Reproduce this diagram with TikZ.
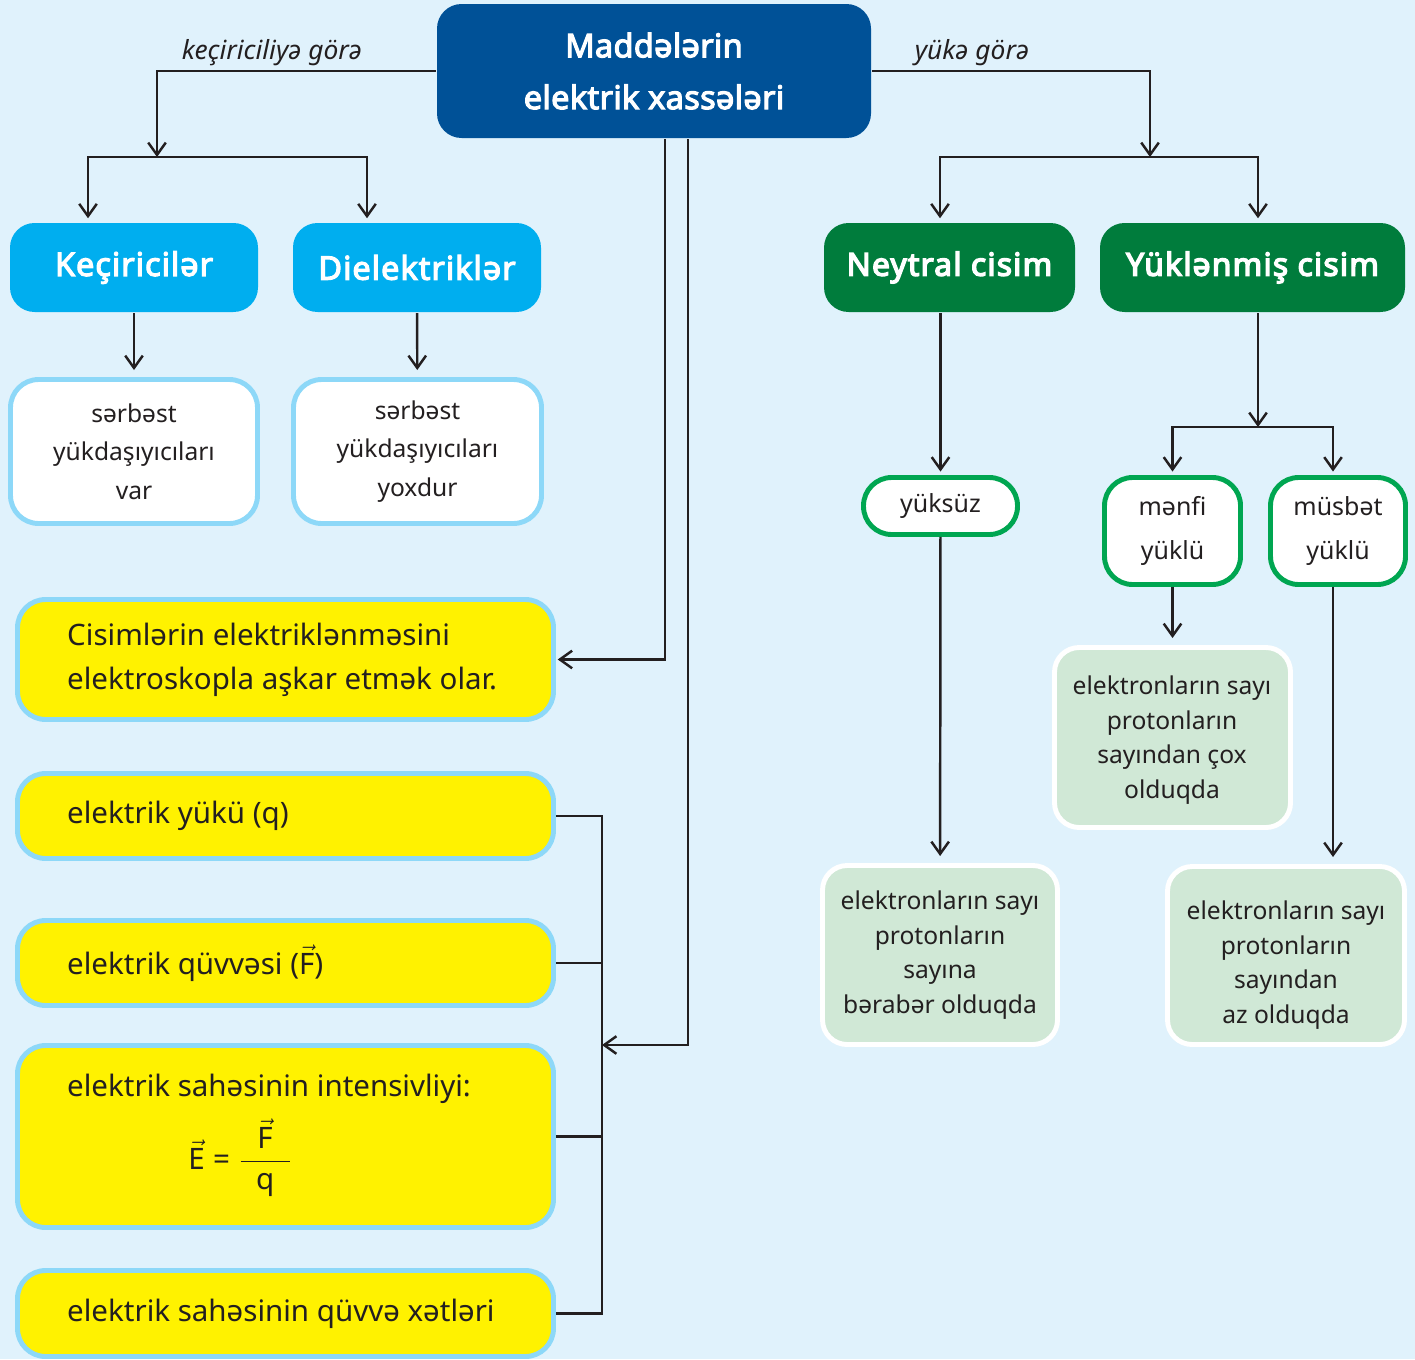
\documentclass[tikz,border=0pt]{standalone}
\usepackage{amsmath}
\usepackage{fontspec}
\setmainfont{Noto Sans}
\newfontfamily\titlefont[FakeBold=3.5, LetterSpace=1]{Noto Sans}
\newfontfamily\kfont[FakeBold=3.5, LetterSpace=3]{Noto Sans}
\newfontfamily\heavyfont[FakeBold=4.5, LetterSpace=4]{Noto Sans}
\usetikzlibrary{arrows.meta,calc}

\definecolor{bgblue}{HTML}{E0F2FC}
\definecolor{titleblue}{HTML}{005197}
\definecolor{cyanbox}{HTML}{00AEEF}
\definecolor{greenbox}{HTML}{007C3C}
\definecolor{greenline}{HTML}{00A651}
\definecolor{skyline}{HTML}{8DD8F8}
\definecolor{yellowbox}{HTML}{FFF200}
\definecolor{mintbox}{HTML}{D0E8D6}
\definecolor{ink}{HTML}{231F20}

% box from its corner coordinates (x1,y1)-(x2,y2), in pixel units
\newcommand\boxat[7]{%
  \node[#2, minimum width={(#5-#3)*0.02cm}, minimum height={(#6-#4)*0.02cm}]
    (#1) at ({(#3+#5)/2},{(#4+#6)/2}) {#7};}

\begin{document}
\begin{tikzpicture}[x=0.02cm, y=-0.02cm, line width=1.4pt, draw=ink, text=ink,
  every node/.style={inner sep=0pt},
  titlebox/.style={fill=titleblue, rounded corners=14pt, text=white, align=center,
    font=\titlefont\fontsize{18.5}{29.5}\selectfont},
  kbox/.style={fill=cyanbox, rounded corners=14pt, text=white,
    font=\kfont\fontsize{18.5}{20}\selectfont},
  gbox/.style={fill=greenbox, rounded corners=14pt, text=white,
    font=\heavyfont\fontsize{18}{20}\selectfont},
  wbox/.style={fill=white, draw=skyline, line width=2.8pt, rounded corners=16pt,
    align=center, font=\fontsize{14}{22}\selectfont},
  ybox/.style={fill=yellowbox, draw=skyline, line width=2.8pt, rounded corners=16pt},
  ytext/.style={anchor=west, align=left, font=\fontsize{16.8}{25}\selectfont},
  pill/.style={fill=white, draw=greenline, line width=2.8pt, rounded corners=16pt,
    align=center, font=\fontsize{14.2}{25.5}\selectfont},
  rbox/.style={fill=mintbox, draw=white, line width=2.8pt, rounded corners=14pt},
  rtext/.style={align=center, font=\fontsize{14}{19.6}\selectfont},
  lbl/.style={font=\itshape\fontsize{15}{16}\selectfont},
  arr/.style={-{Straight Barb[length=7pt,width=10pt]}, shorten >=2pt}]

\path[use as bounding box, fill=bgblue] (0,0) rectangle (1415,1359);

% top level
\boxat{title}{titlebox}{437}{4}{871}{138}{Maddələrin\\elektrik xassələri}
\node[lbl] (lk) at (272,53) {keçiriciliyə görə};
\node[lbl] (ly) at (972,53) {yükə görə};

% conductivity branch
\boxat{kec}{kbox}{10}{223}{258}{312}{Keçiricilər}
\boxat{diel}{kbox}{293}{223}{541}{312}{Dielektriklər}
\boxat{wv}{wbox}{10.5}{379.5}{257.5}{523.5}{sərbəst\\yükdaşıyıcıları\\var}
\boxat{wy}{wbox}{293.5}{379.5}{541.5}{523.5}{sərbəst\\yükdaşıyıcıları\\yoxdur}

% charge branch
\boxat{neu}{gbox}{824}{223}{1075}{312}{Neytral cisim}
\boxat{yuk}{gbox}{1100}{223}{1405}{312}{Yüklənmiş cisim}
\boxat{yuksuz}{pill}{863.5}{477.5}{1017.5}{534.5}{yüksüz}
\boxat{menfi}{pill}{1104.5}{477.5}{1240.5}{584.5}{mənfi\\yüklü}
\boxat{musbet}{pill}{1270.5}{477.5}{1405.5}{584.5}{müsbət\\yüklü}
\boxat{r1}{rbox}{822.5}{865.5}{1057.5}{1044.5}{}
\boxat{r2}{rbox}{1054.5}{647.5}{1290.5}{827.5}{}
\boxat{r3}{rbox}{1167.5}{866.5}{1404.5}{1044.5}{}
\node[rtext] (r1t) at (940,955) {elektronların sayı\\protonların\\sayına\\bərabər olduqda};
\node[rtext] (r2t) at (1172,740) {elektronların sayı\\protonların\\sayından çox\\olduqda};
\node[rtext] (r3t) at (1286,965) {elektronların sayı\\protonların\\sayından\\az olduqda};

% yellow cards
\boxat{y1}{ybox}{17.5}{599.5}{553.5}{719.5}{}
\boxat{y2}{ybox}{17.5}{773.5}{553.5}{858.5}{}
\boxat{y3}{ybox}{17.5}{920.5}{553.5}{1005.5}{}
\boxat{y4}{ybox}{17.5}{1045.5}{553.5}{1227.5}{}
\boxat{y5}{ybox}{17.5}{1270.5}{553.5}{1356.5}{}
\node[ytext] (t1) at (66,660) {Cisimlərin elektriklənməsini\\elektroskopla aşkar etmək olar.};
\node[ytext] (t2) at (66,816) {elektrik yükü (q)};
\node[ytext] (t3) at (66,963) {elektrik qüvvəsi ($\vec{\text{F}}$)};
\node[ytext] (t4) at (66,1089) {elektrik sahəsinin intensivliyi:};
\node[ytext, anchor=center] (t4f) at (240,1158)
  {$\vec{\text{E}}\;\text{=}\;\dfrac{\;\;\vec{\text{F}}\;\;}{\text{q}}$};
\node[ytext] (t5) at (66,1314) {elektrik sahəsinin qüvvə xətləri};

% connectors: conductivity
\coordinate (kjoin) at (157,157);
\draw[arr, shorten >=0pt] (title.west) -| (kjoin);
\draw[arr] (kjoin) -| ([xshift=-0.92cm]kec.north);
\draw[arr] (kjoin) -| ([xshift=-1cm]diel.north);
\draw[arr, shorten >=4pt] (kec) -- (wv);
\draw[arr, shorten >=4pt] (diel) -- (wy);

% connectors: charge
\coordinate (rjoin) at (1150,157);
\draw[arr, shorten >=0pt] (title.east) -| (rjoin);
\draw[arr] (rjoin) -| ([xshift=-0.19cm]neu.north);
\draw[arr] (rjoin) -| ([xshift=0.11cm]yuk.north);
\draw[arr] (yuksuz.north |- neu.south) -- (yuksuz.north);
\draw[arr, shorten >=4pt] (yuksuz) -- (r1);
\coordinate (cjoin) at (1258,427);
\draw[arr, shorten >=0pt] (yuk.south -| cjoin) -- (cjoin);
\draw[arr] (cjoin) -| (menfi.north);
\draw[arr] (cjoin) -| ([xshift=-0.1cm]musbet.north);
\draw[arr, shorten >=4pt] (menfi) -- (r2);
\draw[arr, shorten >=4pt] ([xshift=-0.1cm]musbet.south) -- ([xshift=-0.1cm]musbet.south |- r3.north);

% connectors: to the yellow cards
\draw[arr, shorten >=1pt] ([xshift=0.22cm]title.south) |- (y1.east);
\coordinate (bus) at (602,1045);
\draw[arr, shorten >=0pt] ([xshift=0.68cm]title.south) |- (bus);
\draw (y2.east) -| (bus |- y5.east) -- (y5.east);
\draw (y3.east) -- (y3.east -| bus);
\draw (y4.east) -- (y4.east -| bus);
\end{tikzpicture}
\end{document}
